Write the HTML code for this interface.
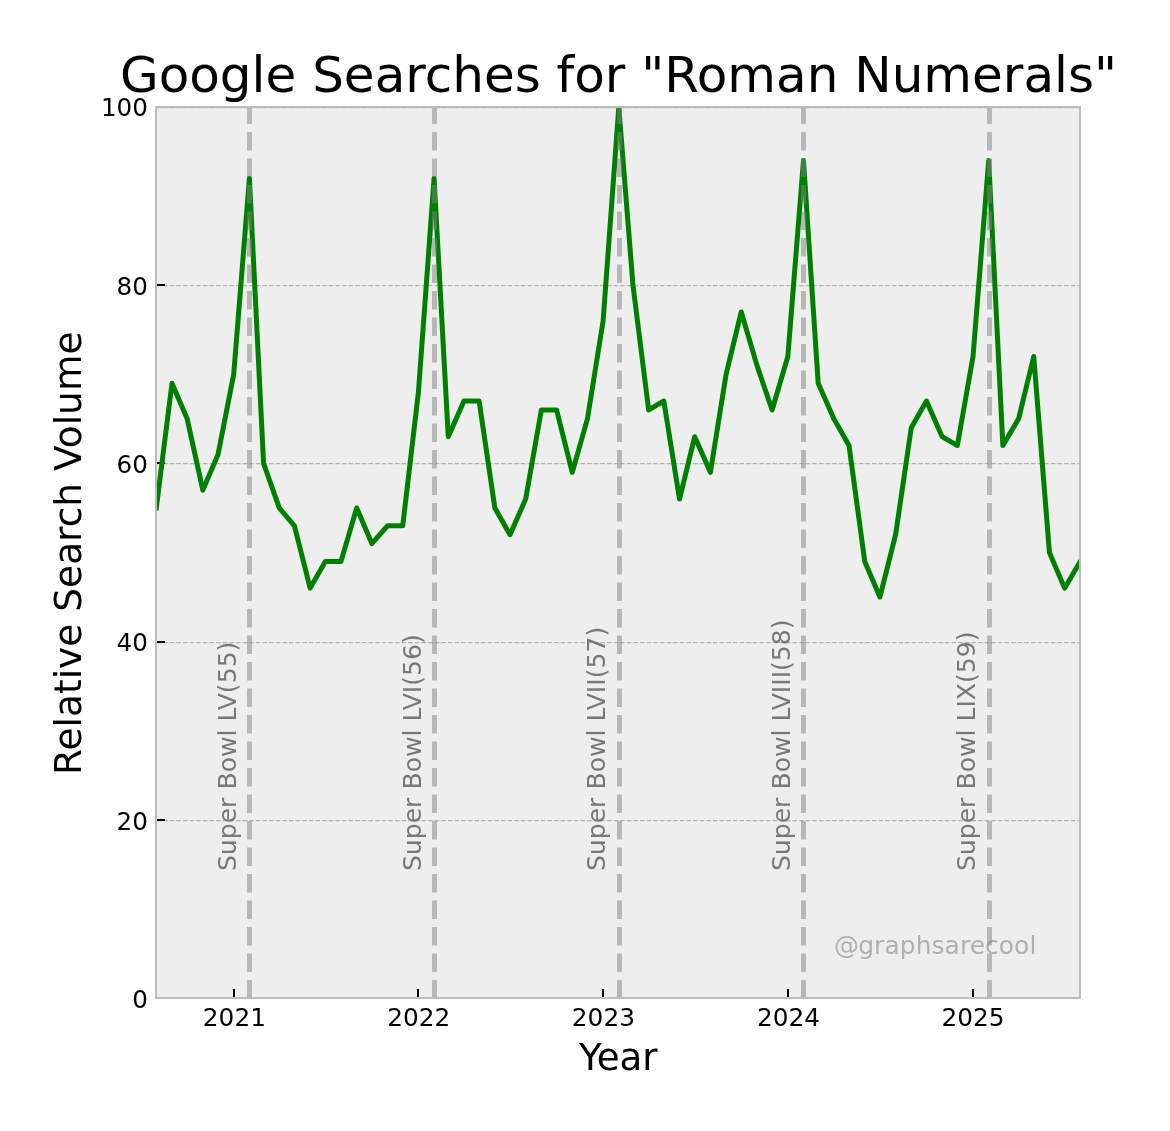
<!DOCTYPE html>
<html lang="en"><head><meta charset="utf-8"><title>Google Searches for "Roman Numerals"</title>
<style>html,body{margin:0;padding:0;background:#fff}svg{display:block}text{font-family:"DejaVu Sans","Liberation Sans",sans-serif}</style></head><body>
<svg width="1170" height="1131" viewBox="0 0 1170 1131">
<rect width="1170" height="1131" fill="#fff"/>
<rect x="156.0" y="107.0" width="924.0" height="891.0" fill="#eeeeee"/>
<defs><clipPath id="ax"><rect x="156.0" y="107.0" width="924.0" height="891.0"/></clipPath></defs>
<line clip-path="url(#ax)" x1="156.45" x2="1080.0" y1="820.5" y2="820.5" stroke="#b2b2b2" stroke-width="1.25" stroke-dasharray="4.625 2"/>
<line clip-path="url(#ax)" x1="156.45" x2="1080.0" y1="642.5" y2="642.5" stroke="#b2b2b2" stroke-width="1.25" stroke-dasharray="4.625 2"/>
<line clip-path="url(#ax)" x1="156.45" x2="1080.0" y1="463.5" y2="463.5" stroke="#b2b2b2" stroke-width="1.25" stroke-dasharray="4.625 2"/>
<line clip-path="url(#ax)" x1="156.45" x2="1080.0" y1="285.5" y2="285.5" stroke="#b2b2b2" stroke-width="1.25" stroke-dasharray="4.625 2"/>
<line clip-path="url(#ax)" x1="156.45" x2="1080.0" y1="107.5" y2="107.5" stroke="#b2b2b2" stroke-width="1.25" stroke-dasharray="4.625 2"/>
<line x1="234" x2="234" y1="998.0" y2="989.0" stroke="#000" stroke-width="2"/>
<line x1="418" x2="418" y1="998.0" y2="989.0" stroke="#000" stroke-width="2"/>
<line x1="603" x2="603" y1="998.0" y2="989.0" stroke="#000" stroke-width="2"/>
<line x1="788" x2="788" y1="998.0" y2="989.0" stroke="#000" stroke-width="2"/>
<line x1="973" x2="973" y1="998.0" y2="989.0" stroke="#000" stroke-width="2"/>
<line x1="156.0" x2="165.0" y1="998" y2="998" stroke="#000" stroke-width="2"/>
<line x1="156.0" x2="165.0" y1="820" y2="820" stroke="#000" stroke-width="2"/>
<line x1="156.0" x2="165.0" y1="642" y2="642" stroke="#000" stroke-width="2"/>
<line x1="156.0" x2="165.0" y1="463" y2="463" stroke="#000" stroke-width="2"/>
<line x1="156.0" x2="165.0" y1="285" y2="285" stroke="#000" stroke-width="2"/>
<line x1="156.0" x2="165.0" y1="107" y2="107" stroke="#000" stroke-width="2"/>
<polyline clip-path="url(#ax)" points="156.30,507.95 171.99,383.21 187.17,418.85 202.85,490.13 218.03,454.49 233.72,374.30 249.41,178.28 263.58,463.40 279.26,507.95 294.44,525.77 310.13,588.14 325.31,561.41 341.00,561.41 356.68,507.95 371.86,543.59 387.55,525.77 402.73,525.77 418.42,392.12 434.10,178.28 448.27,436.67 463.96,401.03 479.14,401.03 494.83,507.95 510.01,534.68 525.69,499.04 541.38,409.94 556.56,409.94 572.25,472.31 587.43,418.85 603.12,320.84 618.80,107.00 632.97,285.20 648.66,409.94 663.84,401.03 679.52,499.04 694.71,436.67 710.39,472.31 726.08,374.30 741.26,311.93 756.95,365.39 772.13,409.94 787.81,356.48 803.50,160.46 818.17,383.21 833.86,418.85 849.04,445.58 864.73,561.41 879.91,597.05 895.60,534.68 911.28,427.76 926.46,401.03 942.15,436.67 957.33,445.58 973.02,356.48 988.70,160.46 1002.87,445.58 1018.56,418.85 1033.74,356.48 1049.43,552.50 1064.61,588.14 1080.29,561.41" fill="none" stroke="#008000" stroke-width="5" stroke-linejoin="round" stroke-linecap="square"/>
<line clip-path="url(#ax)" x1="249.5" x2="249.5" y1="998.5" y2="107.0" stroke="#808080" stroke-opacity="0.5" stroke-width="5" stroke-dasharray="18.5 8"/>
<line clip-path="url(#ax)" x1="434.5" x2="434.5" y1="998.5" y2="107.0" stroke="#808080" stroke-opacity="0.5" stroke-width="5" stroke-dasharray="18.5 8"/>
<line clip-path="url(#ax)" x1="619.5" x2="619.5" y1="998.5" y2="107.0" stroke="#808080" stroke-opacity="0.5" stroke-width="5" stroke-dasharray="18.5 8"/>
<line clip-path="url(#ax)" x1="803.5" x2="803.5" y1="998.5" y2="107.0" stroke="#808080" stroke-opacity="0.5" stroke-width="5" stroke-dasharray="18.5 8"/>
<line clip-path="url(#ax)" x1="989.5" x2="989.5" y1="998.5" y2="107.0" stroke="#808080" stroke-opacity="0.5" stroke-width="5" stroke-dasharray="18.5 8"/>
<text transform="translate(236.0,871.1) rotate(-90)" font-size="24.7" textLength="229.49" lengthAdjust="spacingAndGlyphs" fill="#787878">Super Bowl LV(55)</text>
<text transform="translate(421.0,871.1) rotate(-90)" font-size="24.7" textLength="236.89" lengthAdjust="spacingAndGlyphs" fill="#787878">Super Bowl LVI(56)</text>
<text transform="translate(605.0,871.1) rotate(-90)" font-size="24.7" textLength="244.30" lengthAdjust="spacingAndGlyphs" fill="#787878">Super Bowl LVII(57)</text>
<text transform="translate(790.0,871.1) rotate(-90)" font-size="24.7" textLength="251.70" lengthAdjust="spacingAndGlyphs" fill="#787878">Super Bowl LVIII(58)</text>
<text transform="translate(975.0,871.1) rotate(-90)" font-size="24.7" textLength="239.68" lengthAdjust="spacingAndGlyphs" fill="#787878">Super Bowl LIX(59)</text>
<text x="834.1" y="953.8" font-size="24.93" fill="#808080" fill-opacity="0.57">@<tspan dx="-0.8" letter-spacing="0.065">graphsarecool</tspan></text>
<rect x="156.0" y="107.0" width="924.0" height="891.0" fill="none" stroke="#bcbcbc" stroke-width="2"/>
<text x="234.4" y="1025.8" text-anchor="middle" font-size="24.8">2021</text>
<text x="418.8" y="1025.8" text-anchor="middle" font-size="24.8">2022</text>
<text x="603.4" y="1025.8" text-anchor="middle" font-size="24.8">2023</text>
<text x="788.5" y="1025.8" text-anchor="middle" font-size="24.8">2024</text>
<text x="973.1" y="1025.8" text-anchor="middle" font-size="24.8">2025</text>
<text x="147.9" y="1008.2" text-anchor="end" font-size="24.6">0</text>
<text x="147.9" y="830.2" text-anchor="end" font-size="24.6">20</text>
<text x="147.9" y="651.2" text-anchor="end" font-size="24.6">40</text>
<text x="147.9" y="473.2" text-anchor="end" font-size="24.6">60</text>
<text x="147.9" y="295.2" text-anchor="end" font-size="24.6">80</text>
<text x="147.9" y="116.2" text-anchor="end" font-size="24.6">100</text>
<text x="618.3" y="1069.7" text-anchor="middle" font-size="37.2">Year</text>
<text transform="translate(80.9,553.2) rotate(-90)" text-anchor="middle" font-size="37.5">Relative Search Volume</text>
<text x="618.45" y="91.7" text-anchor="middle" font-size="50">Google Searches for "Roman Numerals"</text>
</svg></body></html>
